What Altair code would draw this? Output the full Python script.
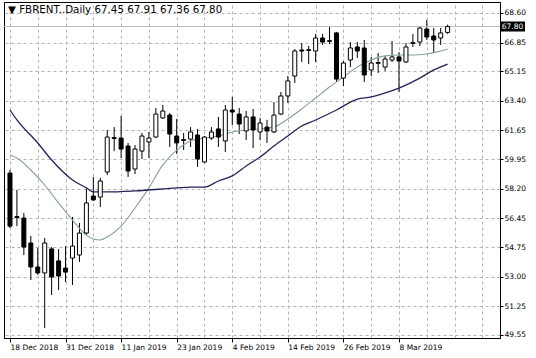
import altair as alt
import pandas as pd

# ---- data (daily OHLC, bar index 0 = 18 Dec 2018) ----
opens = [59.13, 56.55, 56.47, 54.99, 53.57, 53.22, 54.64, 53.93, 53.51, 54.10,
         54.28, 55.58, 57.77, 57.71, 59.19, 61.17, 61.20, 60.73, 59.37, 60.43,
         60.97, 61.26, 62.39, 62.56, 61.32, 61.06, 61.14, 61.38, 59.78, 61.20,
         61.74, 61.03, 62.86, 62.62, 61.62, 62.45, 61.56, 61.85, 61.56, 62.62,
         63.69, 64.87, 66.41, 66.38, 66.35, 67.12, 66.96, 67.42, 64.75, 65.82,
         66.59, 66.53, 65.23, 65.62, 65.40, 65.82, 66.00, 65.70, 66.80, 66.88,
         67.65, 67.24, 67.12, 67.45]
highs = [59.31, 58.13, 56.77, 55.41, 54.69, 55.29, 54.75, 54.64, 54.81, 56.53,
         56.17, 58.19, 58.90, 58.84, 61.68, 61.85, 62.51, 60.91, 60.79, 61.50,
         61.56, 62.98, 63.16, 62.68, 62.33, 61.50, 61.85, 61.74, 61.32, 61.85,
         62.45, 63.16, 63.63, 62.98, 62.80, 62.92, 62.39, 62.27, 63.33, 63.93,
         64.87, 66.47, 66.82, 66.65, 67.36, 67.36, 67.77, 67.48, 65.76, 66.88,
         66.88, 67.00, 66.00, 66.23, 66.06, 66.94, 66.29, 66.82, 67.36, 67.77,
         68.19, 67.71, 67.71, 67.91]
lows = [55.88, 55.99, 54.28, 52.80, 53.10, 49.96, 51.91, 52.21, 52.68, 52.51,
        53.87, 55.46, 57.48, 57.12, 59.01, 60.43, 60.02, 58.90, 59.07, 59.96,
        60.02, 61.20, 62.33, 60.67, 60.26, 60.49, 60.67, 59.49, 59.72, 61.09,
        60.67, 60.38, 61.97, 61.44, 61.09, 60.61, 61.09, 60.91, 61.50, 62.56,
        63.27, 64.46, 65.70, 65.58, 65.70, 66.71, 66.77, 64.52, 64.28, 65.40,
        65.94, 64.52, 64.87, 65.05, 65.17, 65.70, 63.93, 65.64, 66.59, 66.65,
        67.00, 66.23, 66.71, 67.36]
closes = [55.99, 56.50, 54.75, 53.57, 53.22, 54.99, 52.98, 53.04, 53.27, 54.81,
          55.58, 57.36, 57.54, 58.66, 61.26, 61.23, 60.55, 59.25, 60.55, 61.32,
          61.20, 62.62, 62.80, 61.44, 60.91, 61.11, 61.56, 59.96, 61.26, 61.56,
          61.26, 62.86, 62.74, 62.03, 62.45, 61.68, 62.09, 61.62, 62.56, 63.69,
          64.58, 66.35, 66.35, 66.43, 67.12, 66.88, 66.92, 64.69, 65.64, 66.53,
          66.35, 64.93, 65.64, 65.67, 65.88, 66.00, 65.76, 66.59, 66.85, 67.71,
          67.18, 67.00, 67.42, 67.80]

# slow moving average (dark line), read at bar indices
slow_idx = [0, 1, 4, 6, 9, 11, 12, 14, 18, 24, 26, 28, 30, 32, 34, 36, 38, 40,
            42, 44, 47, 50, 52, 54, 56, 59, 61, 63]
slow_vals = [62.86, 62.27, 60.91, 59.90, 58.72, 58.25, 58.01, 58.01, 58.07,
             58.25, 58.30, 58.30, 58.66, 58.96, 59.55, 60.08, 60.73, 61.32,
             61.91, 62.27, 62.86, 63.51, 63.63, 63.87, 64.16, 64.75, 65.23, 65.58]

# fast moving average (grey-green line), read at bar indices
fast_idx = [0, 1, 3, 5, 7, 9, 11, 12, 13, 14, 16, 18, 20, 22, 24, 26, 28, 30,
            32, 34, 36, 38, 40, 42, 44, 46, 48, 50, 52, 54, 56, 58, 60, 62, 63]
fast_vals = [60.20, 60.02, 59.31, 58.42, 57.36, 56.35, 55.46, 55.23, 55.17,
             55.35, 55.99, 57.06, 58.25, 59.61, 60.49, 61.03, 61.20, 61.32,
             61.56, 61.68, 61.74, 61.85, 62.33, 62.92, 63.57, 64.22, 64.81,
             65.40, 65.82, 66.06, 66.11, 66.11, 66.17, 66.35, 66.47]

date_labels = ["18 Dec 2018", "31 Dec 2018", "11 Jan 2019", "23 Jan 2019",
               "4 Feb 2019", "14 Feb 2019", "26 Feb 2019", "8 Mar 2019"]
y_ticks = [68.60, 66.85, 65.15, 63.40, 61.65, 59.95, 58.20, 56.45, 54.75,
           53.00, 51.25, 49.55]
last_price = [67.80]
header = ["\u25bc FBRENT..Daily  67.45 67.91 67.36 67.80"]

# ---- tables ----
n = len(opens)
df = pd.DataFrame({"idx": list(range(n)), "open": opens, "high": highs,
                   "low": lows, "close": closes})
slow = pd.DataFrame({"idx": slow_idx, "v": slow_vals})
fast = pd.DataFrame({"idx": fast_idx, "v": fast_vals})
lp = pd.DataFrame({"p": last_price, "t": ["%.2f" % v for v in last_price]})
hdr = pd.DataFrame({"t": header})

W, H = 496, 336
FONT = "DejaVu Sans"
GRID = "#b4b4b4"

xscale = alt.Scale(domain=[-0.14, 69.82], nice=False, zero=False)
yscale = alt.Scale(domain=[49.37, 69.25], nice=False, zero=False)

yaxis = alt.Axis(orient="right", values=y_ticks, format=".2f", grid=True,
                 gridColor=GRID, gridDash=[3, 3], gridWidth=1, tickSize=3,
                 tickColor="black", domainColor="black", labelFontSize=7.5,
                 labelFont=FONT, labelColor="black", labelPadding=1,
                 title=None, labelOverlap=False, labelBound=False)
grid_axis = alt.Axis(orient="top", values=list(range(0, 70, 4)), grid=True,
                     gridColor=GRID, gridDash=[3, 3], gridWidth=1,
                     labels=False, ticks=False, domain=False, title=None)
labels_js = "[" + ",".join("'%s'" % d for d in date_labels) + "]"
label_axis = alt.Axis(orient="bottom", values=list(range(0, 8 * len(date_labels), 8)),
                      labelExpr=labels_js + "[floor(datum.value / 8)]",
                      grid=False, labelAlign="left", tickSize=4,
                      tickColor="black", domainColor="black", labelFont=FONT,
                      labelFontSize=7.5, labelColor="black", labelPadding=1,
                      labelOverlap=False, labelBound=False, labelFlush=False,
                      title=None)


def Y(field):
    return alt.Y(field, scale=yscale, axis=yaxis)


wicks = alt.Chart(df).mark_rule(color="black", strokeWidth=1, clip=True).encode(
    x=alt.X("idx:Q", scale=xscale, axis=grid_axis),
    y=Y("low:Q"),
    y2="high:Q",
)

price_line = alt.Chart(lp).mark_rule(color="#bdbdbd", strokeWidth=1).encode(
    y=Y("p:Q"),
)

bodies = alt.Chart(df).mark_bar(size=4, stroke="black", strokeWidth=1, clip=True).encode(
    x=alt.X("idx:Q", scale=xscale, axis=label_axis),
    y=Y("open:Q"),
    y2="close:Q",
    fill=alt.condition("datum.close >= datum.open", alt.value("white"), alt.value("black")),
)

fast_line = alt.Chart(fast).mark_line(color="#86a397", strokeWidth=1.1,
                                      interpolate="monotone", clip=True).encode(
    x=alt.X("idx:Q", scale=xscale, axis=None),
    y=Y("v:Q"),
)
slow_line = alt.Chart(slow).mark_line(color="#232358", strokeWidth=1.3,
                                      interpolate="monotone", clip=True).encode(
    x=alt.X("idx:Q", scale=xscale, axis=None),
    y=Y("v:Q"),
)

price_box = alt.Chart(lp).mark_tick(color="black", orient="horizontal",
                                    size=25, thickness=10, opacity=1).encode(
    x=alt.value(W + 12.5),
    y=Y("p:Q"),
)
price_text = alt.Chart(lp).mark_text(color="white", font=FONT, fontSize=7.5,
                                     align="center", baseline="middle").encode(
    x=alt.value(W + 12.5),
    y=Y("p:Q"),
    text="t:N",
)

head = alt.Chart(hdr).mark_text(color="black", font=FONT, fontSize=10.3,
                                align="left", baseline="middle").encode(
    x=alt.value(4), y=alt.value(8), text="t:N"
)

chart = alt.layer(
    wicks, price_line, fast_line, slow_line, bodies, price_box, price_text, head
).resolve_axis(x="independent", y="shared").properties(
    width=W, height=H,
    autosize=alt.AutoSizeParams(type="none"),
    padding={"left": 4, "top": 2, "right": 36, "bottom": 20},
    background="white",
).configure_view(stroke="black", strokeWidth=1)

chart.save("out.html", embed_options={"renderer": "svg", "actions": False})
